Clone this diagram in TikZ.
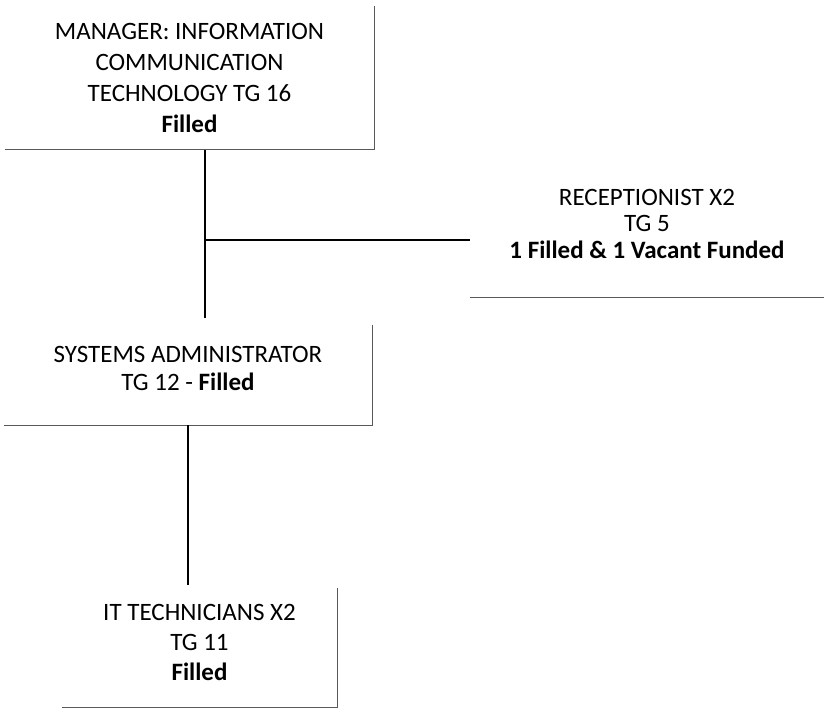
\documentclass[tikz,border=0pt]{standalone}
\usepackage{fontspec}
\setmainfont{Carlito}
\usetikzlibrary{positioning}
\tikzset{
  post/.style={align=center, inner sep=0pt, font=\fontsize{25}{31}\selectfont},
  rim/.style={draw=black!65, line width=0.7pt},
  link/.style={draw=black, line width=1.7pt}
}
\begin{document}
\begin{tikzpicture}[x=1pt,y=-1pt]
      \useasboundingbox (0,0) rectangle (824,716);
      \node[post, minimum width=369pt, minimum height=143pt] (mgr) at (189.5,78)
        {MANAGER: INFORMATION\\COMMUNICATION\\TECHNOLOGY TG 16\\\textbf{Filled}};
      \node[post, minimum width=354pt, minimum height=147pt,
        font=\fontsize{25}{26.5}\selectfont] (rec) at (647,223.5)
        {RECEPTIONIST X2\\TG 5\\\textbf{1 Filled \& 1 Vacant Funded}};
      \node[post, minimum width=368pt, minimum height=114pt,
        font=\fontsize{25}{28}\selectfont] (sys) at (188,368)
        {SYSTEMS ADMINISTRATOR\\TG 12 - \textbf{Filled}};
      \node[post, minimum width=275pt, minimum height=130pt,
        font=\fontsize{25}{30}\selectfont] (it) at (199.5,642)
        {IT TECHNICIANS X2\\TG 11\\\textbf{Filled}};
      \begin{scope}[-]
        \draw[rim] (mgr.north east) -- (mgr.south east) -- (mgr.south west);
        \draw[rim] (rec.south east) -- (rec.south west);
        \draw[rim] ([yshift=-14pt]sys.north east) -- (sys.south east) -- (sys.south west);
        \draw[rim] ([yshift=-11pt]it.north east) -- (it.south east) -- (it.south west);
        \coordinate (jn) at (205,240);
        \draw[link] (mgr.south -| jn) -- ([yshift=-7pt]sys.north -| jn);
        \draw[link] (jn) -- (jn -| rec.west);
        \draw[link] (sys.south) -- ([yshift=-8pt]sys.south |- it.north);
      \end{scope}
    \end{tikzpicture}
\end{document}
